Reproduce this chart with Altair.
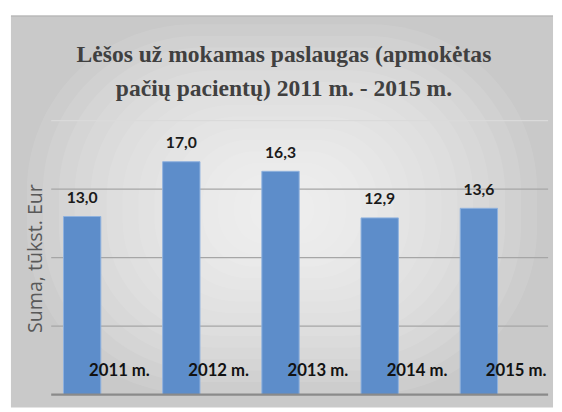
import altair as alt
import pandas as pd

years = ["2011 m.", "2012 m.", "2013 m.", "2014 m.", "2015 m."]
values = [13.0, 17.0, 16.3, 12.9, 13.6]
labels = ["13,0", "17,0", "16,3", "12,9", "13,6"]
grid_mid = [5, 10, 15]
grid_top = [20]
grid_base = [0]
title_line1 = "Lėšos už mokamas paslaugas (apmokėtas"
title_line2 = "pačių pacientų) 2011 m. - 2015 m."
y_title = "Suma, tūkst. Eur"

W, H = 505, 279

df = pd.DataFrame({"year": years, "value": values, "label": labels})

xscale = alt.Scale(domain=years, paddingInner=0, paddingOuter=0)
yscale = alt.Scale(domain=[0, 20], nice=False)

x_enc = alt.X("year:N", scale=xscale, axis=None, sort=years)
one = pd.DataFrame({"a": [0]})

# background panel: grey base with soft lighter centre built from nested translucent rects
bg_layers = [
    alt.Chart(one).mark_rect(fill="#c9c9c9").encode(
        x=alt.value(-41), x2=alt.value(W + 6), y=alt.value(-107), y2=alt.value(H + 13)
    ),
    alt.Chart(one).mark_rule(color="#b0b0b0", strokeWidth=1).encode(
        x=alt.value(-41), x2=alt.value(W + 6), y=alt.value(-106.5)
    ),
]
cx, cy, hw, hh = 235, 90, 276, 200
n = 16
for k in range(1, n + 1):
    f = 1 - k / (n + 1)
    w2, h2 = hw * f, hh * f
    bg_layers.append(
        alt.Chart(one).mark_rect(
            fill="white", opacity=0.085, cornerRadius=min(w2, h2) * 0.9
        ).encode(
            x=alt.value(cx - w2), x2=alt.value(cx + w2),
            y=alt.value(cy - h2), y2=alt.value(cy + h2),
        )
    )

def rules(vals, color, width):
    return alt.Chart(pd.DataFrame({"v": vals})).mark_rule(
        color=color, strokeWidth=width
    ).encode(
        y=alt.Y("v:Q", scale=yscale, axis=None), x=alt.value(0), x2=alt.value(W + 1)
    )

g_mid = rules(grid_mid, "#a6a6a6", 1.5)
g_top = rules(grid_top, "#dadada", 1.5)
g_base = rules(grid_base, "#8a8a8a", 2.5)

bars = alt.Chart(df).mark_bar(
    size=38, xOffset=-19, color="#5d8dca", stroke="#8fb1de", strokeWidth=1
).encode(
    x=x_enc,
    y=alt.Y("value:Q", scale=yscale, axis=None),
)

vlabels = alt.Chart(df).mark_text(
    font="Lato", fontSize=16, fontWeight="bold", color="#1a1a1a",
    baseline="alphabetic", align="center", dy=-14, xOffset=-19,
).encode(
    x=x_enc,
    y=alt.Y("value:Q", scale=yscale, axis=None),
    text="label:N",
)

xlabels = alt.Chart(df).mark_text(
    font="Lato", fontSize=17, fontWeight="bold",
    color="#121212", baseline="alphabetic", align="center", xOffset=19,
).encode(
    x=x_enc,
    y=alt.value(260),
    text="year:N",
)

title_df = pd.DataFrame({"t": [title_line1, title_line2], "yy": [-60, -25]})
title = alt.Chart(title_df).mark_text(
    font="Liberation Serif", fontSize=24, fontWeight="bold",
    color="#404040", align="center", baseline="alphabetic",
).encode(
    x=alt.value(237),
    y=alt.Y("yy:Q", scale=None),
    text="t:N",
)

ytitle_df = pd.DataFrame({"t": [y_title]})
ytitle = alt.Chart(ytitle_df).mark_text(
    font="Open Sans", fontSize=20, color="#595959",
    angle=270, align="center", baseline="middle",
).encode(x=alt.value(-15), y=alt.value(H / 2 + 1), text="t:N")

chart = alt.layer(*bg_layers, g_top, g_mid, bars, g_base, vlabels, xlabels, ytitle, title).properties(
    width=W, height=H,
    padding={"left": 2, "top": 4, "right": 0, "bottom": 0},
).configure_view(stroke=None)

chart.save("out.html", embed_options={"renderer": "svg", "actions": False})
